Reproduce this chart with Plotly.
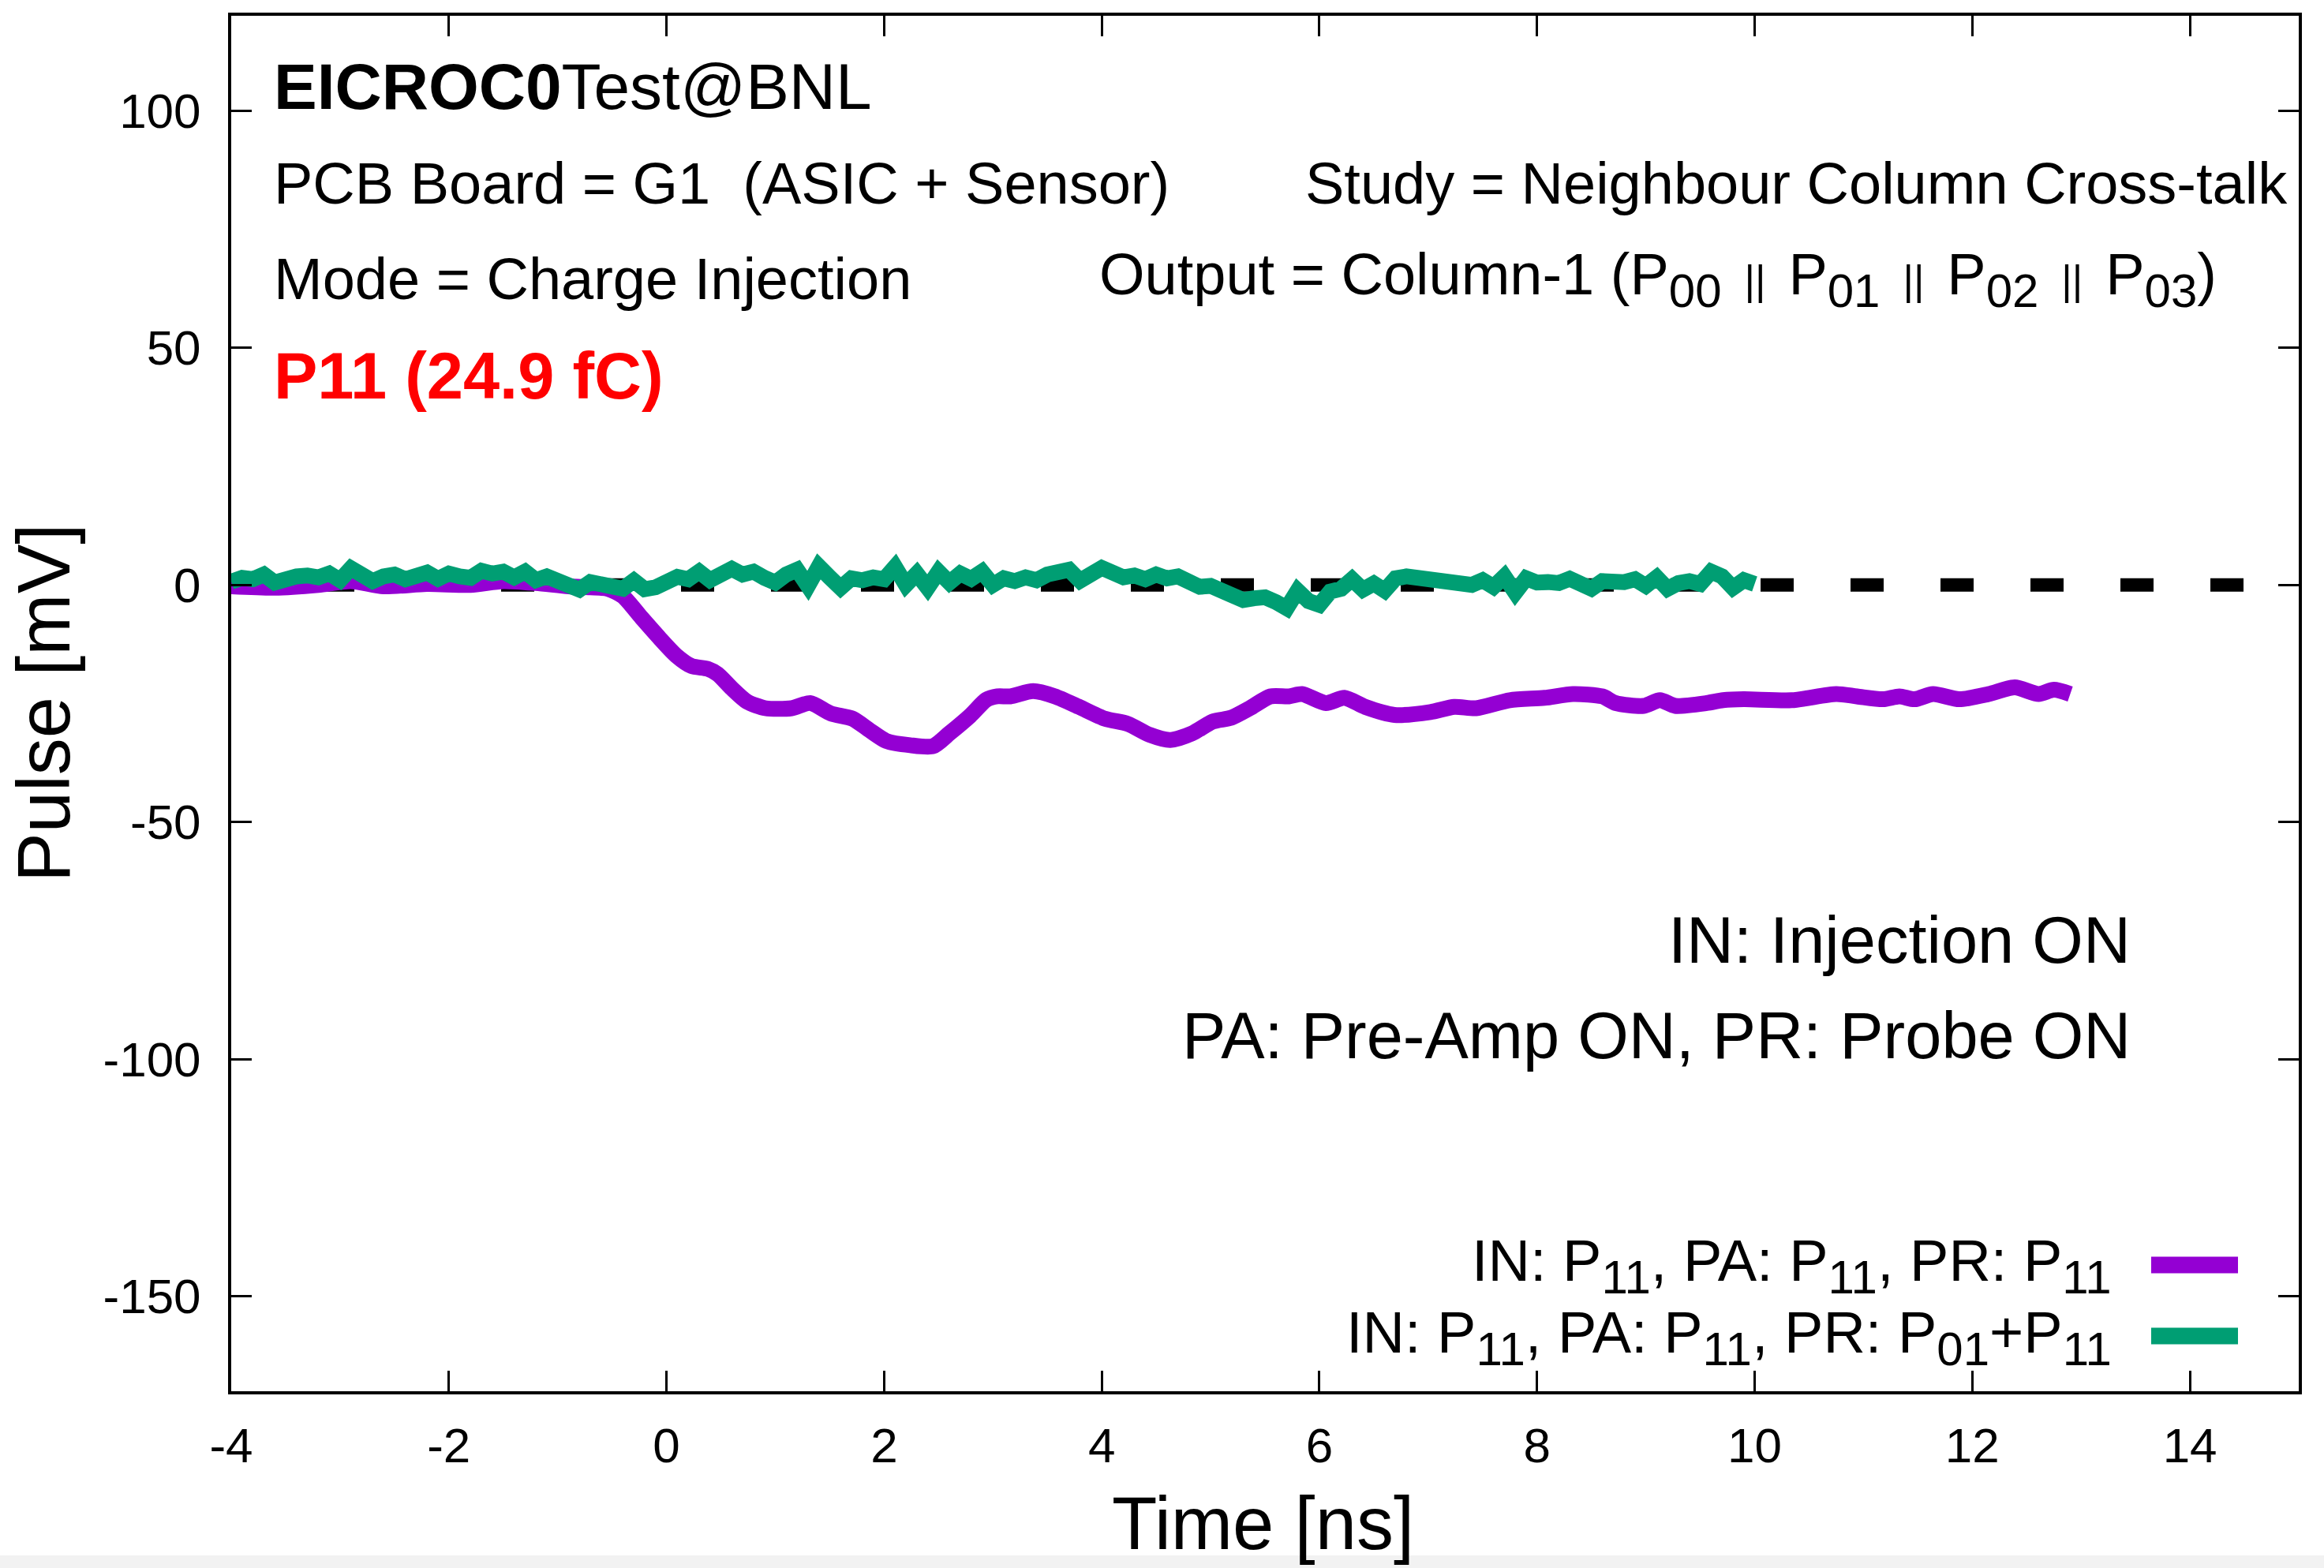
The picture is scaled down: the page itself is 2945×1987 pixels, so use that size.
import plotly.graph_objects as go

# ---------------- data ----------------
purple_t = [-4.0, -3.6, -3.2, -2.9, -2.6, -2.2, -1.8, -1.5, -1.2, -0.9, -0.7, -0.54, -0.40, -0.23, -0.06,
            0.09, 0.23, 0.38, 0.47, 0.60, 0.74, 0.91, 1.15, 1.32, 1.51, 1.71, 1.87, 2.02, 2.24, 2.45,
            2.60, 2.79, 2.94, 3.04, 3.16, 3.37, 3.57, 3.79, 4.03, 4.24, 4.44, 4.63, 4.83, 5.02, 5.19,
            5.36, 5.55, 5.72, 5.84, 6.06, 6.23, 6.42, 6.69, 7.02, 7.24, 7.44, 7.75, 8.07, 8.33, 8.60,
            8.72, 8.98, 9.13, 9.27, 9.56, 9.71, 9.90, 10.34, 10.75, 10.94, 11.18, 11.33, 11.47, 11.64,
            11.88, 12.15, 12.39, 12.61, 12.75, 12.90]
purple_v = [-0.3, -0.6, 0.0, 0.8, -0.3, 0.2, 0.0, 0.8, 0.4, -0.3, -0.5, -0.8, -2.4, -6.9, -11.3,
            -14.9, -17.1, -17.7, -18.8, -21.8, -24.6, -26.0, -26.0, -24.9, -27.1, -28.2, -30.7, -32.9, -33.8, -34.0,
            -31.3, -27.6, -24.2, -23.5, -23.5, -22.4, -23.5, -25.7, -28.2, -29.3, -31.6, -32.7, -31.3, -28.8, -28.0,
            -26.0, -23.5, -23.5, -23.0, -24.9, -23.8, -25.7, -27.4, -26.8, -25.7, -26.0, -24.3, -23.8, -23.0, -23.5,
            -24.9, -25.5, -24.3, -25.5, -24.9, -24.3, -24.1, -24.3, -23.0, -23.5, -24.1, -23.5, -24.1, -23.0,
            -24.1, -23.0, -21.6, -23.0, -22.1, -23.0]

green_t = [round(-4.0 + 0.1 * i, 1) for i in range(141)]
green_v = [0.7, 1.5, 1.2, 2.2, 0.5, 1.3, 1.8, 2.0, 1.6, 2.4,
           1.0, 3.5, 1.8, 0.8, 1.8, 2.2, 1.2, 2.0, 2.6, 1.3,
           2.4, 1.8, 1.5, 3.0, 2.4, 2.8, 1.6, 2.8, 1.0, 1.8,
           0.6, -0.2, -1.0, 0.6, 0.3, 0.0, -0.8, 0.9, -0.9, -0.5,
           0.6, 1.7, 1.2, 2.8, 1.0, 2.2, 3.4, 2.2, 2.8, 1.5,
           0.5, 2.2, 3.2, -0.2, 3.9, 1.6, -0.6, 1.4, 1.0, 1.6,
           1.2, 3.8, 0.0, 2.4, -0.6, 2.8, 0.5, 2.4, 1.3, 2.8,
           0.0, 1.4, 0.8, 1.6, 1.0, 2.2, 2.6, 3.2, 0.9, 2.4,
           3.6, 2.6, 1.6, 2.0, 1.2, 2.2, 1.4, 1.8, 0.4, -0.4,
           -0.2, -1.4, -2.6, -3.2, -2.8, -2.6, -3.6, -4.9, -1.2, -3.4,
           -4.2, -1.4, -0.8, 1.2, -1.0, 0.3, -1.2, 1.4, 1.8, 1.6,
           1.4, 1.0, 0.2, 0.4, 0.0, 1.0, -0.4, 1.8, -1.6, 1.4,
           0.5, 0.6, 0.4, 1.3, 0.6, -0.8, 0.8, 0.4, 0.6, 1.2,
           -0.2, 1.6, -0.8, 0.4, 0.8, 0.2, 2.8, 1.8, -0.6, 1.0,
           0.2]

zero_t = [-4.0, 15.0]
zero_v = [0.0, 0.0]

x_tickvals = [-4, -2, 0, 2, 4, 6, 8, 10, 12, 14]
x_ticktext = ["-4", "-2", "0", "2", "4", "6", "8", "10", "12", "14"]
y_tickvals = [-150, -100, -50, 0, 50, 100]
y_ticktext = ["-150", "-100", "-50", "0", "50", "100"]

SUB = "<sub><span style='font-size:60px'>%s</span></sub>"
legend_labels = ["IN: P" + SUB % "11" + ", PA: P" + SUB % "11" + ", PR: P" + SUB % "11",
                 "IN: P" + SUB % "11" + ", PA: P" + SUB % "11" + ", PR: P" + SUB % "01" + "+P" + SUB % "11"]
PURPLE = "#9400D3"
GREEN = "#009E73"

# ---------------- layout helpers (pixel -> paper) ----------------
W, H = 2945, 1987
L, R, T, B = 293, 2913, 20, 1763
def px(X):
    return (X - L) / (R - L)
def py(Y):
    return (B - Y) / (B - T)

FONT = "Liberation Sans, Arial, Helvetica, sans-serif"

fig = go.Figure()
fig.add_trace(go.Scatter(x=zero_t, y=zero_v, mode="lines",
                         line=dict(color="black", width=17, dash="42px,72px"),
                         showlegend=False, hoverinfo="skip"))
fig.add_trace(go.Scatter(x=purple_t, y=purple_v, mode="lines",
                         line=dict(color=PURPLE, width=20, shape="spline", smoothing=0.7),
                         name="purple", showlegend=False))
fig.add_trace(go.Scatter(x=green_t, y=green_v, mode="lines",
                         line=dict(color=GREEN, width=20),
                         name="green", showlegend=False))

axis_common = dict(showline=True, linecolor="black", linewidth=4, mirror="ticks",
                   ticks="inside", ticklen=26, tickwidth=3, tickcolor="black",
                   showgrid=False, zeroline=False,
                   tickfont=dict(family=FONT, size=62, color="black"))
fig.update_xaxes(range=[-4, 15], tickvals=x_tickvals, ticktext=x_ticktext,
                 ticklabelstandoff=12, **axis_common)
fig.update_yaxes(range=[-170, 120], tickvals=y_tickvals, ticktext=y_ticktext,
                 ticklabelstandoff=22, **axis_common)

ann = []
def text(s, X, Y, size, anchor="left", color="black", angle=0):
    ann.append(dict(text=s, x=px(X), y=py(Y), xref="paper", yref="paper",
                    xanchor=anchor, yanchor="middle", showarrow=False, textangle=angle,
                    font=dict(family=FONT, size=size, color=color)))

PAR = "<span style='font-size:52px'>&nbsp;&nbsp;||&nbsp;&nbsp;</span>"
text("<b>EICROC0</b>Test@BNL", 345, 109, 82)
text("PCB Board = G1&nbsp;&nbsp;(ASIC + Sensor)", 345, 232, 74)
text("Study = Neighbour Column Cross-talk", 1652, 232, 74)
text("Mode = Charge Injection", 345, 354, 74)
text("Output = Column-1 (P" + SUB % "00" + PAR + "P" + SUB % "01" + PAR + "P" + SUB % "02" + PAR +
     "P" + SUB % "03" + ")", 1391, 354, 74)
text("<b>P11 (24.9 fC)</b>", 345, 476, 83, color="#FF0000")
text("IN: Injection ON", 2702, 1191, 83, anchor="right")
text("PA: Pre-Amp ON, PR: Probe ON", 2702, 1312, 83, anchor="right")
text(legend_labels[0], 2678, 1604, 74, anchor="right")
text(legend_labels[1], 2678, 1695, 74, anchor="right")
text("Pulse [mV]", 56, 891, 94, anchor="center", angle=-90)
text("Time [ns]", 1600, 1930, 94, anchor="center")

shapes = [
    dict(type="line", xref="paper", yref="paper", x0=px(2726), x1=px(2836), y0=py(1603), y1=py(1603),
         line=dict(color=PURPLE, width=21)),
    dict(type="line", xref="paper", yref="paper", x0=px(2726), x1=px(2836), y0=py(1693), y1=py(1693),
         line=dict(color=GREEN, width=21)),
    dict(type="rect", xref="paper", yref="paper", x0=px(0), x1=px(W), y0=py(1987), y1=py(1971),
         fillcolor="#F2F2F2", line=dict(width=0), layer="above"),
]

fig.update_layout(width=W, height=H, autosize=False,
                  margin=dict(l=L, r=W - R, t=T, b=H - B, pad=0),
                  paper_bgcolor="white", plot_bgcolor="white",
                  annotations=ann, shapes=shapes, showlegend=False,
                  font=dict(family=FONT, color="black"))

fig.write_html("out.html")
